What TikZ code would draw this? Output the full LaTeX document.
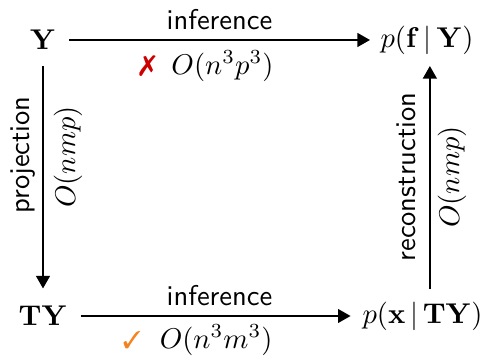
\documentclass[tikz,border=0pt]{standalone}
\usepackage{pifont}
\usetikzlibrary{arrows.meta}
\definecolor{xred}{RGB}{204,0,0}
\definecolor{corange}{RGB}{245,130,30}
\tikzset{
  arr/.style={line width=0.7pt,-{Triangle[length=4.4pt,width=4.8pt]}},
  obj/.style={inner sep=0pt},
  lbl/.style={inner sep=0pt,font=\sffamily},
  cost/.style={inner sep=0pt}
}
\begin{document}
\begin{tikzpicture}[x=0.35pt,y=-0.35pt]
\useasboundingbox (0,0) rectangle (489,358);
\node[obj] (Y) at (43,40) {$\mathbf{Y}$};
\node[obj,anchor=west] (pf) at (380,40) {$p(\mathbf{f}\,|\,\mathbf{Y})$};
\node[obj] (TY) at (43,316) {$\mathbf{TY}$};
\node[obj,anchor=west] (px) at (362,316) {$p(\mathbf{x}\,|\,\mathbf{TY})$};
% top inference
\draw[arr] ([xshift=4.5pt]Y.east) -- ([xshift=-3.5pt]pf.west);
\node[lbl] (l1) at (219.5,20) {inference};
\node[cost,anchor=east] (c1) at (274,66) {\textcolor{xred}{\ding{55}}\hspace{5.5pt}$O(n^3p^3)$};
% bottom inference
\draw[arr] ([xshift=4.5pt]TY.east) -- ([xshift=-4pt]px.west);
\node[lbl] (l2) at (219.5,296) {inference};
\node[cost,anchor=east] (c2) at (273,340) {\textcolor{corange}{\scalebox{0.85}{\ding{51}}}\hspace{6.5pt}$O(n^3m^3)$};
% projection
\draw[arr] ([yshift=-5.5pt]Y.south) -- ([yshift=6pt]TY.north);
\node[lbl,rotate=90] (l3) at (23,155) {projection};
\node[cost,rotate=90] (c3) at (68,157) {$O(nmp)$};
% reconstruction
\draw[arr] ([xshift=1pt,yshift=4.2pt]px.north -| pf.south) -- ([xshift=1pt,yshift=-3.9pt]pf.south);
\node[lbl,rotate=90] (l4) at (406,177) {reconstruction};
\node[cost,rotate=90] (c4) at (452,177) {$O(nmp)$};
\end{tikzpicture}
\end{document}
